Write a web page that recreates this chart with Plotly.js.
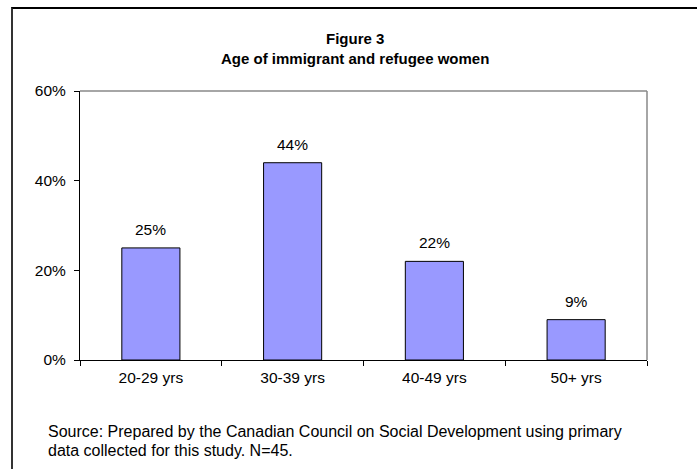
<!DOCTYPE html>
<html>
<head>
<meta charset="utf-8">
<script src="https://cdn.plot.ly/plotly-3.0.1.min.js"></script>
<style>
  html, body { margin: 0; padding: 0; background: #fff; }
  #wrap { position: relative; width: 697px; height: 469px; }
  #chart { position: absolute; left: 0; top: 0; width: 697px; height: 469px; }
  #frame { position: absolute; left: 11px; top: 7px; width: 700px; height: 480px;
           border-left: 2px solid #333; border-top: 2px solid #000; pointer-events: none; }
</style>
</head>
<body>
<div id="wrap">
  <div id="chart"></div>
  <div id="frame"></div>
</div>
<script>
const categories = ["20-29 yrs", "30-39 yrs", "40-49 yrs", "50+ yrs"];
const values = [25, 44, 22, 9];
const valueLabels = ["25%", "44%", "22%", "9%"];
const titleLine1 = "Figure 3";
const titleLine2 = "Age of immigrant and refugee women";
const sourceLine1 = "Source: Prepared by the Canadian Council on Social Development using primary";
const sourceLine2 = "data collected for this study. N=45.";

const font = "Liberation Sans, Arial, sans-serif";
const fs = 15.5;

const trace = {
  type: "bar",
  x: categories,
  y: values,
  marker: { color: "#9999FF", line: { color: "#000", width: 1 } },
  width: 0.41,
  hoverinfo: "skip"
};

const valueAnnotations = categories.map((c, i) => ({
  text: valueLabels[i], x: c, y: values[i], xref: "x", yref: "y",
  xanchor: "center", yanchor: "bottom", yshift: 8, showarrow: false,
  font: { family: font, size: fs, color: "#000" }
}));

const layout = {
  width: 697, height: 469,
  margin: { l: 80, r: 50, t: 91, b: 109 },
  paper_bgcolor: "#fff",
  plot_bgcolor: "#fff",
  showlegend: false,
  font: { family: font, size: fs, color: "#000" },
  xaxis: {
    type: "category",
    showline: true, linecolor: "#000", linewidth: 1,
    ticks: "outside", tickson: "boundaries", ticklen: 5, tickcolor: "#000",
    showgrid: false, zeroline: false, ticklabelstandoff: 3,
    tickfont: { family: font, size: fs, color: "#000" }
  },
  yaxis: {
    range: [0, 60], dtick: 20, ticksuffix: "%",
    showline: true, linecolor: "#000", linewidth: 1,
    ticks: "outside", ticklen: 5, tickcolor: "#000",
    showgrid: false, zeroline: false, ticklabelstandoff: 5,
    tickfont: { family: font, size: fs, color: "#000" }
  },
  shapes: [
    { type: "line", xref: "paper", yref: "paper", x0: 0, x1: 1, y0: 1, y1: 1, line: { color: "#888", width: 1.5 } },
    { type: "line", xref: "paper", yref: "paper", x0: 1, x1: 1, y0: 0, y1: 1, line: { color: "#888", width: 1.5 } }
  ],
  annotations: valueAnnotations.concat([
    { text: "<b>" + titleLine1 + "</b>", xref: "paper", yref: "paper", x: 0.485, y: 1, yshift: 53,
      xanchor: "center", yanchor: "middle", showarrow: false, font: { family: font, size: 15, color: "#000" } },
    { text: "<b>" + titleLine2 + "</b>", xref: "paper", yref: "paper", x: 0.485, y: 1, yshift: 33,
      xanchor: "center", yanchor: "middle", showarrow: false, font: { family: font, size: 15, color: "#000" } },
    { text: sourceLine1, xref: "paper", yref: "paper", x: 0, y: 0, xshift: -34, yshift: -71,
      xanchor: "left", yanchor: "middle", showarrow: false, font: { family: font, size: 16, color: "#000" } },
    { text: sourceLine2, xref: "paper", yref: "paper", x: 0, y: 0, xshift: -34, yshift: -90,
      xanchor: "left", yanchor: "middle", showarrow: false, font: { family: font, size: 16, color: "#000" } }
  ])
};

Plotly.newPlot("chart", [trace], layout, { displayModeBar: false, staticPlot: true });
</script>
</body>
</html>
